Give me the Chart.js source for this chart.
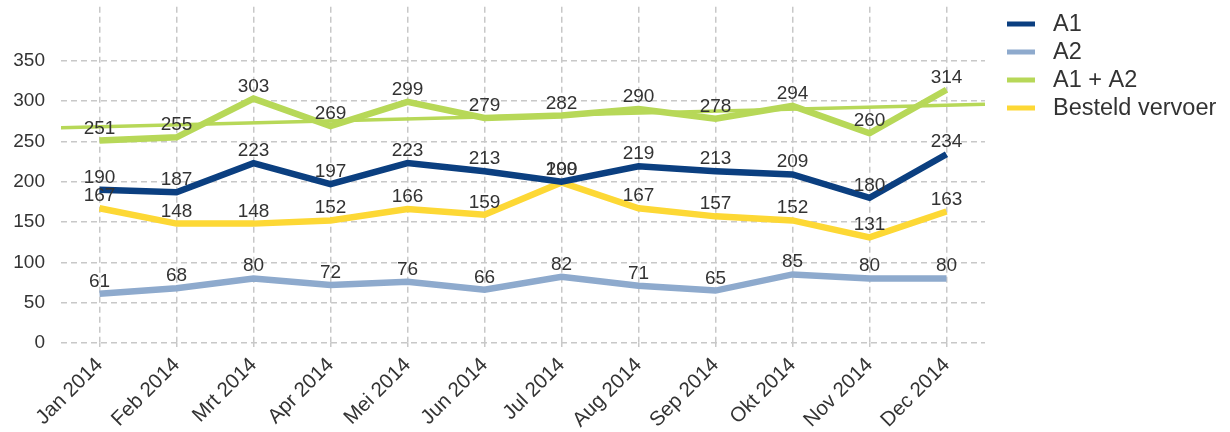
<!DOCTYPE html>
<html>
<head>
<meta charset="utf-8">
<script src="https://cdn.jsdelivr.net/npm/chart.js@4/dist/chart.umd.min.js"></script>
<style>
  html, body { margin: 0; padding: 0; background: #ffffff; }
  #wrap { width: 1230px; height: 432px; position: relative; }
</style>
</head>
<body>
<div id="wrap"><canvas id="c" width="1230" height="432"></canvas></div>
<script>
const categories = ['Jan 2014','Feb 2014','Mrt 2014','Apr 2014','Mei 2014','Jun 2014','Jul 2014','Aug 2014','Sep 2014','Okt 2014','Nov 2014','Dec 2014'];
const seriesA1 = [190,187,223,197,223,213,200,219,213,209,180,234];
const seriesA2 = [61,68,80,72,76,66,82,71,65,85,80,80];
const seriesA1A2 = [251,255,303,269,299,279,282,290,278,294,260,314];
const seriesBesteld = [167,148,148,152,166,159,199,167,157,152,131,163];
// trend line of A1 + A2, read at the left and right edges of the plot
const trendX = [-0.5, 11.5];
const trendY = [267, 296];
const yTicks = [0,50,100,150,200,250,300,350];

const FONT = '"Liberation Sans", Arial, Helvetica, sans-serif';
const TEXT = '#333333';
const GRID = '#c8c8c8';

const labelPlugin = {
  id: 'valueLabels',
  afterDatasetsDraw(chart) {
    const ctx = chart.ctx;
    ctx.save();
    ctx.font = '19px ' + FONT;
    ctx.fillStyle = TEXT;
    ctx.textAlign = 'center';
    ctx.textBaseline = 'alphabetic';
    chart.data.datasets.forEach((ds, i) => {
      if (!ds.showValues) return;
      const meta = chart.getDatasetMeta(i);
      meta.data.forEach((pt, j) => {
        ctx.fillText(String(ds.data[j]), pt.x, pt.y - 7);
      });
    });
    ctx.restore();
  }
};

const legendPlugin = {
  id: 'customLegend',
  afterDraw(chart) {
    const ctx = chart.ctx;
    ctx.save();
    ctx.font = '23.5px ' + FONT;
    ctx.textBaseline = 'middle';
    ctx.textAlign = 'left';
    let y = 24;
    chart.data.datasets.forEach(ds => {
      if (!ds.inLegend) return;
      ctx.fillStyle = ds.borderColor;
      ctx.fillRect(1007, y - 2.5, 28, 5);
      ctx.fillStyle = TEXT;
      ctx.fillText(ds.label, 1053, y + 1);
      y += 28;
    });
    ctx.restore();
  }
};

new Chart(document.getElementById('c'), {
  type: 'line',
  data: {
    labels: categories,
    datasets: [
      { label: 'A1', data: seriesA1, borderColor: '#0b3f80', backgroundColor: '#0b3f80', borderWidth: 6.5, pointRadius: 0, tension: 0, showValues: true, inLegend: true, borderCapStyle: 'butt', borderJoinStyle: 'miter' },
      { label: 'A2', data: seriesA2, borderColor: '#8eaacd', backgroundColor: '#8eaacd', borderWidth: 6.5, pointRadius: 0, tension: 0, showValues: true, inLegend: true, borderCapStyle: 'butt', borderJoinStyle: 'miter' },
      { label: 'A1 + A2', data: seriesA1A2, borderColor: '#b7d858', backgroundColor: '#b7d858', borderWidth: 6.5, pointRadius: 0, tension: 0, showValues: true, inLegend: true, borderCapStyle: 'butt', borderJoinStyle: 'miter' },
      { label: 'Besteld vervoer', data: seriesBesteld, borderColor: '#fdd835', backgroundColor: '#fdd835', borderWidth: 6.5, pointRadius: 0, tension: 0, showValues: true, inLegend: true, borderCapStyle: 'butt', borderJoinStyle: 'miter' },
      { label: 'Trend', data: trendX.map((x, i) => ({ x: x, y: trendY[i] })), xAxisID: 'xTrend', borderColor: '#b7d858', backgroundColor: '#b7d858', borderWidth: 3.5, pointRadius: 0, tension: 0, showValues: false, inLegend: false }
    ]
  },
  options: {
    responsive: false,
    animation: false,
    devicePixelRatio: 1,
    layout: { padding: { top: 0, right: 245, left: 0, bottom: 0 } },
    plugins: { legend: { display: false }, tooltip: { enabled: false } },
    scales: {
      x: {
        type: 'category',
        offset: true,
        border: { display: false, dash: [6, 4] },
        grid: { color: GRID, lineWidth: 1.5, drawTicks: true, tickLength: 4, tickColor: GRID, offset: false },
        ticks: { color: TEXT, font: { family: FONT, size: 20.5 }, minRotation: 45, maxRotation: 45, padding: 6, autoSkip: false },
        afterFit(scale) { scale.height = 89; }
      },
      xTrend: {
        type: 'linear',
        display: false,
        min: -0.5,
        max: 11.5
      },
      y: {
        min: 0,
        max: 417,
        border: { display: false, dash: [6, 4] },
        grid: { color: GRID, lineWidth: 1.5, drawTicks: true, tickLength: 16, tickColor: 'rgba(0,0,0,0)' },
        ticks: { color: TEXT, font: { family: FONT, size: 19, lineHeight: 0.7 }, padding: 0, stepSize: 50 },
        afterBuildTicks(scale) { scale.ticks = yTicks.map(v => ({ value: v })); },
        afterFit(scale) { scale.width = 61; }
      }
    }
  },
  plugins: [labelPlugin, legendPlugin]
});
</script>
</body>
</html>
